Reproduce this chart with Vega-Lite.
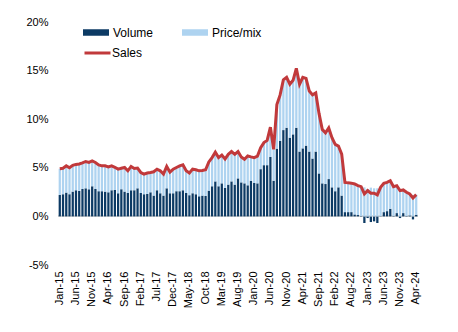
{
  "$schema": "https://vega.github.io/schema/vega-lite/v6.json",
  "width": 360,
  "height": 243,
  "padding": {"left": 25, "top": 16, "right": 5, "bottom": 5},
  "config": {
    "view": {"stroke": null},
    "font": "Liberation Sans",
    "axis": {"labelColor": "#000000", "labelFont": "Liberation Sans", "labelFontSize": 11},
    "legend": {"labelColor": "#000000", "labelFont": "Liberation Sans", "labelFontSize": 12}
  },
  "data": {"values": [
    {"m":"Jan-15","Volume":2.21,"Price/mix":2.69,"Sales":4.9},
    {"m":"Feb-15","Volume":2.28,"Price/mix":2.67,"Sales":4.95},
    {"m":"Mar-15","Volume":2.45,"Price/mix":2.75,"Sales":5.2},
    {"m":"Apr-15","Volume":2.28,"Price/mix":2.72,"Sales":5.0},
    {"m":"May-15","Volume":2.55,"Price/mix":2.70,"Sales":5.25},
    {"m":"Jun-15","Volume":2.69,"Price/mix":2.66,"Sales":5.35},
    {"m":"Jul-15","Volume":2.62,"Price/mix":2.78,"Sales":5.4},
    {"m":"Aug-15","Volume":2.82,"Price/mix":2.68,"Sales":5.5},
    {"m":"Sep-15","Volume":2.89,"Price/mix":2.76,"Sales":5.65},
    {"m":"Oct-15","Volume":2.79,"Price/mix":2.76,"Sales":5.55},
    {"m":"Nov-15","Volume":3.10,"Price/mix":2.60,"Sales":5.7},
    {"m":"Dec-15","Volume":2.82,"Price/mix":2.73,"Sales":5.55},
    {"m":"Jan-16","Volume":2.59,"Price/mix":2.71,"Sales":5.3},
    {"m":"Feb-16","Volume":2.59,"Price/mix":2.61,"Sales":5.2},
    {"m":"Mar-16","Volume":2.55,"Price/mix":2.65,"Sales":5.2},
    {"m":"Apr-16","Volume":2.48,"Price/mix":2.62,"Sales":5.1},
    {"m":"May-16","Volume":2.69,"Price/mix":2.51,"Sales":5.2},
    {"m":"Jun-16","Volume":2.72,"Price/mix":2.33,"Sales":5.05},
    {"m":"Jul-16","Volume":2.38,"Price/mix":2.48,"Sales":4.86},
    {"m":"Aug-16","Volume":2.79,"Price/mix":2.16,"Sales":4.95},
    {"m":"Sep-16","Volume":2.55,"Price/mix":2.48,"Sales":5.03},
    {"m":"Oct-16","Volume":2.41,"Price/mix":2.28,"Sales":4.69},
    {"m":"Nov-16","Volume":2.69,"Price/mix":2.45,"Sales":5.14},
    {"m":"Dec-16","Volume":2.69,"Price/mix":2.24,"Sales":4.93},
    {"m":"Jan-17","Volume":2.89,"Price/mix":2.08,"Sales":4.97},
    {"m":"Feb-17","Volume":2.41,"Price/mix":2.11,"Sales":4.52},
    {"m":"Mar-17","Volume":2.28,"Price/mix":2.07,"Sales":4.35},
    {"m":"Apr-17","Volume":2.31,"Price/mix":2.15,"Sales":4.46},
    {"m":"May-17","Volume":2.48,"Price/mix":2.04,"Sales":4.52},
    {"m":"Jun-17","Volume":2.14,"Price/mix":2.45,"Sales":4.59},
    {"m":"Jul-17","Volume":2.69,"Price/mix":2.17,"Sales":4.86},
    {"m":"Aug-17","Volume":2.38,"Price/mix":2.31,"Sales":4.69},
    {"m":"Sep-17","Volume":2.14,"Price/mix":2.21,"Sales":4.35},
    {"m":"Oct-17","Volume":2.89,"Price/mix":2.25,"Sales":5.14},
    {"m":"Nov-17","Volume":2.38,"Price/mix":2.17,"Sales":4.55},
    {"m":"Dec-17","Volume":2.38,"Price/mix":2.48,"Sales":4.86},
    {"m":"Jan-18","Volume":2.59,"Price/mix":2.44,"Sales":5.03},
    {"m":"Feb-18","Volume":2.59,"Price/mix":2.61,"Sales":5.2},
    {"m":"Mar-18","Volume":2.69,"Price/mix":2.62,"Sales":5.31},
    {"m":"Apr-18","Volume":2.41,"Price/mix":2.28,"Sales":4.69},
    {"m":"May-18","Volume":2.18,"Price/mix":2.28,"Sales":4.46},
    {"m":"Jun-18","Volume":2.38,"Price/mix":2.48,"Sales":4.86},
    {"m":"Jul-18","Volume":2.28,"Price/mix":2.52,"Sales":4.8},
    {"m":"Aug-18","Volume":2.07,"Price/mix":2.62,"Sales":4.69},
    {"m":"Sep-18","Volume":2.14,"Price/mix":2.58,"Sales":4.72},
    {"m":"Oct-18","Volume":2.10,"Price/mix":2.70,"Sales":4.8},
    {"m":"Nov-18","Volume":2.65,"Price/mix":2.95,"Sales":5.6},
    {"m":"Dec-18","Volume":3.10,"Price/mix":2.95,"Sales":6.05},
    {"m":"Jan-19","Volume":3.60,"Price/mix":3.00,"Sales":6.6},
    {"m":"Feb-19","Volume":3.10,"Price/mix":2.95,"Sales":6.05},
    {"m":"Mar-19","Volume":3.40,"Price/mix":2.90,"Sales":6.3},
    {"m":"Apr-19","Volume":2.93,"Price/mix":2.97,"Sales":5.9},
    {"m":"May-19","Volume":3.27,"Price/mix":3.12,"Sales":6.39},
    {"m":"Jun-19","Volume":3.60,"Price/mix":3.07,"Sales":6.67},
    {"m":"Jul-19","Volume":3.27,"Price/mix":3.12,"Sales":6.39},
    {"m":"Aug-19","Volume":3.91,"Price/mix":2.76,"Sales":6.67},
    {"m":"Sep-19","Volume":3.50,"Price/mix":2.62,"Sales":6.12},
    {"m":"Oct-19","Volume":3.40,"Price/mix":2.48,"Sales":5.88},
    {"m":"Nov-19","Volume":3.20,"Price/mix":3.02,"Sales":6.22},
    {"m":"Dec-19","Volume":3.67,"Price/mix":2.45,"Sales":6.12},
    {"m":"Jan-20","Volume":3.44,"Price/mix":2.61,"Sales":6.05},
    {"m":"Feb-20","Volume":3.40,"Price/mix":2.80,"Sales":6.2},
    {"m":"Mar-20","Volume":4.86,"Price/mix":2.21,"Sales":7.07},
    {"m":"Apr-20","Volume":5.27,"Price/mix":2.32,"Sales":7.59},
    {"m":"May-20","Volume":5.27,"Price/mix":2.55,"Sales":7.82},
    {"m":"Jun-20","Volume":6.12,"Price/mix":3.06,"Sales":9.18},
    {"m":"Jul-20","Volume":3.67,"Price/mix":3.23,"Sales":6.9},
    {"m":"Aug-20","Volume":6.97,"Price/mix":4.53,"Sales":11.5},
    {"m":"Sep-20","Volume":7.76,"Price/mix":4.74,"Sales":12.5},
    {"m":"Oct-20","Volume":8.88,"Price/mix":5.17,"Sales":14.05},
    {"m":"Nov-20","Volume":9.12,"Price/mix":5.18,"Sales":14.3},
    {"m":"Dec-20","Volume":8.10,"Price/mix":5.50,"Sales":13.6},
    {"m":"Jan-21","Volume":8.44,"Price/mix":5.56,"Sales":14.0},
    {"m":"Feb-21","Volume":9.12,"Price/mix":6.12,"Sales":15.24},
    {"m":"Mar-21","Volume":6.67,"Price/mix":6.93,"Sales":13.6},
    {"m":"Apr-21","Volume":7.00,"Price/mix":7.30,"Sales":14.3},
    {"m":"May-21","Volume":7.28,"Price/mix":6.92,"Sales":14.2},
    {"m":"Jun-21","Volume":6.67,"Price/mix":6.23,"Sales":12.9},
    {"m":"Jul-21","Volume":5.95,"Price/mix":6.55,"Sales":12.5},
    {"m":"Aug-21","Volume":6.67,"Price/mix":6.03,"Sales":12.7},
    {"m":"Sep-21","Volume":4.42,"Price/mix":6.18,"Sales":10.6},
    {"m":"Oct-21","Volume":3.40,"Price/mix":5.55,"Sales":8.95},
    {"m":"Nov-21","Volume":3.33,"Price/mix":5.27,"Sales":8.6},
    {"m":"Dec-21","Volume":3.84,"Price/mix":5.26,"Sales":9.1},
    {"m":"Jan-22","Volume":2.99,"Price/mix":5.11,"Sales":8.1},
    {"m":"Feb-22","Volume":2.59,"Price/mix":4.81,"Sales":7.4},
    {"m":"Mar-22","Volume":2.99,"Price/mix":4.25,"Sales":7.24},
    {"m":"Apr-22","Volume":2.14,"Price/mix":4.26,"Sales":6.4},
    {"m":"May-22","Volume":0.44,"Price/mix":3.06,"Sales":3.5},
    {"m":"Jun-22","Volume":0.44,"Price/mix":3.01,"Sales":3.45},
    {"m":"Aug-22","Volume":0.44,"Price/mix":2.98,"Sales":3.42},
    {"m":"Sep-22","Volume":0.20,"Price/mix":3.13,"Sales":3.33},
    {"m":"Oct-22","Volume":0.14,"Price/mix":3.02,"Sales":3.16},
    {"m":"Nov-22","Volume":0.05,"Price/mix":3.01,"Sales":3.06},
    {"m":"Dec-22","Volume":-0.68,"Price/mix":2.99,"Sales":2.31},
    {"m":"Jan-23","Volume":-0.17,"Price/mix":2.82,"Sales":2.65},
    {"m":"Feb-23","Volume":-0.58,"Price/mix":2.96,"Sales":2.38},
    {"m":"Mar-23","Volume":-0.51,"Price/mix":2.89,"Sales":2.38},
    {"m":"Apr-23","Volume":-0.68,"Price/mix":2.89,"Sales":2.21},
    {"m":"May-23","Volume":0.03,"Price/mix":2.96,"Sales":2.99},
    {"m":"Jun-23","Volume":0.44,"Price/mix":2.96,"Sales":3.4},
    {"m":"Jul-23","Volume":0.54,"Price/mix":2.96,"Sales":3.5},
    {"m":"Aug-23","Volume":0.78,"Price/mix":2.89,"Sales":3.67},
    {"m":"Sep-23","Volume":0.05,"Price/mix":3.01,"Sales":3.06},
    {"m":"Oct-23","Volume":0.34,"Price/mix":2.82,"Sales":3.16},
    {"m":"Nov-23","Volume":-0.17,"Price/mix":2.82,"Sales":2.65},
    {"m":"Dec-23","Volume":0.34,"Price/mix":2.38,"Sales":2.72},
    {"m":"Jan-24","Volume":0.05,"Price/mix":2.43,"Sales":2.48},
    {"m":"Feb-24","Volume":0.10,"Price/mix":2.21,"Sales":2.31},
    {"m":"Mar-24","Volume":-0.31,"Price/mix":2.21,"Sales":1.9},
    {"m":"Apr-24","Volume":0.17,"Price/mix":2.07,"Sales":2.24}
  ]},
  "layer": [
    {
      "mark": {"type": "rule", "color": "#d4d4d4", "strokeWidth": 1},
      "encoding": {"y": {"datum": 0, "type": "quantitative"}}
    },
    {
      "transform": [{"fold": ["Volume", "Price/mix"], "as": ["series", "value"]}],
      "mark": {"type": "bar"},
      "encoding": {
        "x": {
          "field": "m", "type": "nominal", "sort": null,
          "scale": {"paddingInner": 0.3, "paddingOuter": 0.2},
          "axis": {
            "values": ["Jan-15","Jun-15","Nov-15","Apr-16","Sep-16","Feb-17","Jul-17","Dec-17","May-18","Oct-18","Mar-19","Aug-19","Jan-20","Jun-20","Nov-20","Apr-21","Sep-21","Feb-22","Aug-22","Jan-23","Jun-23","Nov-23","Apr-24"],
            "labelAngle": -90, "domain": false, "ticks": false, "title": null, "labelPadding": 6
          }
        },
        "y": {
          "field": "value", "type": "quantitative", "stack": "zero",
          "scale": {"domain": [-5, 20], "nice": false},
          "axis": {
            "values": [-5, 0, 5, 10, 15, 20],
            "labelExpr": "datum.value + '%'",
            "domain": false, "ticks": false, "grid": false, "title": null, "labelPadding": 10
          }
        },
        "color": {
          "field": "series", "type": "nominal",
          "scale": {"domain": ["Volume", "Price/mix"], "range": ["#0c3a64", "#aed3f0"]},
          "legend": {
            "title": null, "orient": "none", "legendX": 25, "legendY": -2.5,
            "direction": "horizontal", "columns": 2, "columnPadding": 28,
            "symbolType": "M-1,-0.25H1V0.25H-1Z", "symbolSize": 676, "symbolStrokeWidth": 0,
            "labelOffset": 4, "padding": 0
          }
        },
        "order": {"field": "series", "sort": "descending"}
      }
    },
    {
      "mark": {"type": "line", "strokeWidth": 3},
      "encoding": {
        "x": {"field": "m", "type": "nominal", "sort": null},
        "y": {"field": "Sales", "type": "quantitative"},
        "stroke": {
          "datum": "Sales",
          "scale": {"domain": ["Sales"], "range": ["#c1393b"]},
          "legend": {
            "title": null, "orient": "none", "legendX": 25, "legendY": 16.5,
            "symbolType": "stroke", "symbolSize": 676, "symbolStrokeWidth": 3,
            "labelOffset": 0, "padding": 0
          }
        }
      }
    }
  ]
}
